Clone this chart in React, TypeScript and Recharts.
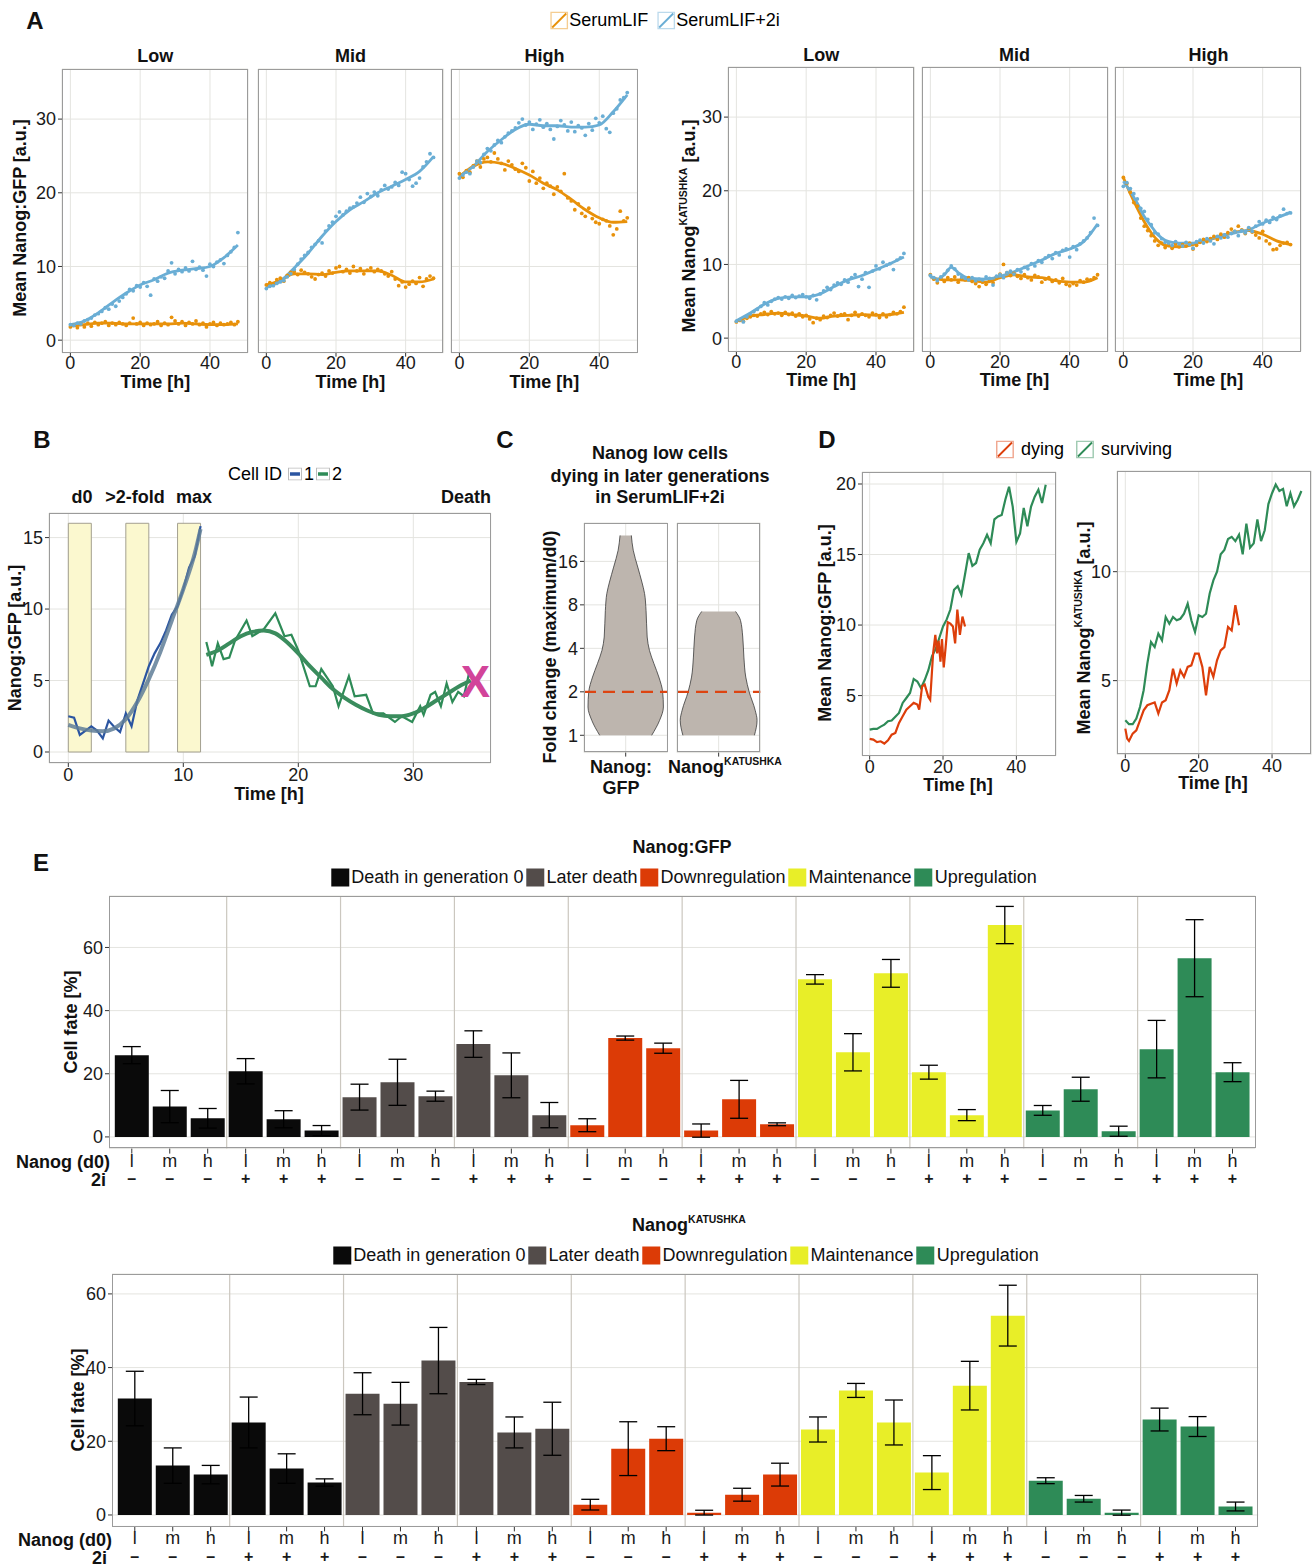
import React from 'react';
import {
  ComposedChart, LineChart, BarChart, Line, Scatter, Area, Bar, Cell, ErrorBar,
  XAxis, YAxis, CartesianGrid, ReferenceLine, ReferenceArea,
} from 'recharts';

const SANS = '"Liberation Sans", Arial, Helvetica, sans-serif';
const GRID = '#e4e4e0';
const BORDER = '#9b9b9b';
const TICK = { fontSize: 18, fontFamily: SANS, fill: '#1a1a1a' };
const ORANGE = '#e8910a';
const BLUE = '#6aaed5';
const RED = '#dd3e0a';
const GREEN = '#2e8b57';

// ---------- A: population means, hourly points + smooth fits ----------
const HOURS = Array.from({ length: 49 }, (_, i) => i);

const gfpLowSerum = [1.8, 2.0, 1.7, 2.2, 1.8, 2.3, 1.9, 2.4, 2.1, 2.3, 2.5, 2.0, 2.3, 2.1, 2.4, 2.2, 2.0, 2.3, 3.0, 2.2, 2.4, 2.0, 2.3, 2.1, 2.2, 2.5, 2.0, 2.3, 2.1, 3.1, 2.6, 2.2, 2.5, 2.0, 2.4, 2.2, 2.6, 2.1, 2.3, 1.8, 2.2, 2.4, 2.0, 2.3, 2.1, 2.2, 2.4, 2.1, 2.5];
const gfpLow2i = [2.1, 2.0, 2.3, 2.2, 2.6, 2.8, 3.0, 3.4, 3.6, 3.9, 4.4, 4.2, 4.9, 4.6, 5.3, 5.8, 6.3, 6.9, 6.7, 7.4, 7.2, 7.8, 7.3, 6.1, 8.3, 8.0, 8.6, 8.4, 9.4, 10.5, 9.0, 9.6, 9.3, 9.8, 9.4, 10.7, 9.6, 9.9, 9.5, 8.7, 10.3, 10.0, 10.6, 10.9, 10.4, 11.5, 12.0, 12.6, 14.6];
const gfpMidSerum = [7.5, 7.8, 7.6, 8.2, 8.4, 8.0, 8.8, 9.2, 9.3, 8.9, 9.5, 9.2, 9.0, 8.6, 8.3, 8.9, 9.1, 8.7, 9.4, 9.1, 9.8, 10.0, 9.3, 9.6, 9.1, 10.0, 9.4, 9.7, 9.0, 9.5, 9.8, 9.3, 9.6, 9.4, 9.0, 8.7, 9.3, 8.3, 7.4, 7.9, 7.2, 7.6, 8.0, 7.7, 8.5, 7.3, 8.3, 8.7, 8.4];
const gfpMid2i = [7.0, 7.3, 7.4, 7.7, 7.9, 8.1, 8.6, 9.0, 9.6, 10.3, 11.0, 11.5, 11.9, 12.6, 13.0, 13.5, 13.2, 14.8, 15.5, 16.0, 16.8, 17.4, 17.0, 17.5, 17.9, 18.1, 18.6, 19.4, 18.7, 19.9, 19.5, 20.1, 19.6, 20.4, 21.0, 20.5, 20.8, 21.4, 21.0, 22.8, 22.6, 21.8, 20.9, 21.3, 22.0, 23.5, 24.2, 25.3, 24.8];
const gfpHighSerum = [22.6, 22.1, 23.0, 22.8, 23.7, 24.3, 23.5, 24.6, 24.8, 24.2, 25.4, 24.6, 24.0, 23.1, 24.3, 23.8, 23.2, 22.9, 24.0, 23.4, 21.6, 22.9, 21.3, 22.0, 20.6, 21.3, 20.9, 19.8, 20.8, 20.2, 22.6, 19.3, 18.9, 17.7, 18.5, 17.2, 16.8, 17.9, 16.5, 16.0, 15.8, 16.4, 16.2, 15.5, 14.3, 15.1, 17.5, 16.2, 16.6];
const gfpHigh2i = [22.0, 22.4, 22.8, 22.6, 23.5, 24.3, 24.1, 25.2, 26.0, 25.7, 26.5, 27.1, 26.8, 27.6, 28.1, 28.4, 28.8, 29.5, 30.0, 29.2, 29.6, 28.6, 29.3, 29.9, 28.9, 29.4, 28.6, 27.3, 29.0, 29.8, 29.2, 28.4, 29.6, 28.3, 29.1, 28.8, 27.8, 29.4, 28.5, 30.1, 29.5, 30.4, 28.7, 28.2, 30.8, 31.4, 32.6, 32.9, 33.6];

const katLowSerum = [2.2, 2.4, 2.3, 2.7, 2.9, 3.1, 3.0, 3.3, 3.5, 3.2, 3.6, 3.3, 3.4, 3.1, 3.5, 3.2, 3.4, 3.0, 3.3, 2.9, 3.1, 2.6, 2.1, 2.7, 2.5, 3.0, 2.8, 3.1, 3.4, 3.0, 3.2, 3.3, 2.5, 3.1, 3.5, 3.0, 3.3, 3.1, 2.9, 3.4, 3.2, 2.8, 3.3, 2.9, 3.2, 3.5, 3.3, 3.6, 4.2];
const katLow2i = [2.3, 2.5, 2.2, 2.9, 3.3, 3.6, 3.9, 4.3, 4.8, 4.5, 5.0, 5.3, 5.5, 5.3, 5.6, 5.4, 5.8, 5.5, 5.7, 5.9, 5.6, 5.4, 5.8, 5.2, 6.0, 6.4, 6.9, 6.6, 7.2, 7.5, 7.3, 7.9, 7.6, 8.2, 8.6, 7.0, 8.0, 8.9, 6.9, 9.1, 9.8, 9.4, 10.3, 9.9, 10.1, 9.3, 10.6, 10.9, 11.5];
const katMidSerum = [8.6, 8.0, 7.5, 8.1, 7.7, 8.2, 7.9, 8.3, 7.6, 8.1, 7.9, 8.2, 7.7, 7.4, 7.0, 7.6, 7.3, 7.8, 7.5, 8.3, 8.7, 10.0, 8.9, 8.5, 8.8, 8.4, 8.1, 8.6, 8.2, 7.9, 8.5, 8.3, 7.6, 8.0, 8.2, 7.7, 7.9, 7.5, 8.1, 7.3, 7.1, 7.4, 7.2, 7.8, 7.6, 8.0, 7.9, 8.2, 8.6];
const katMid2i = [8.5, 8.2, 7.8, 8.3, 8.7, 9.2, 9.8, 9.4, 8.7, 8.3, 8.1, 7.9, 8.2, 7.8, 8.0, 7.9, 8.3, 8.1, 7.2, 8.4, 8.6, 8.2, 8.9, 9.1, 8.7, 9.3, 9.0, 9.6, 9.4, 10.1, 9.8, 10.5, 10.3, 10.9, 11.2, 10.8, 11.6, 11.3, 11.9, 12.1, 11.0, 12.4, 12.0, 12.8, 13.2, 13.6, 14.3, 16.3, 15.3];
const katHighSerum = [21.8, 21.0, 19.8, 18.4, 17.9, 16.3, 15.2, 14.6, 13.9, 13.2, 12.6, 12.9, 12.3, 12.6, 12.2, 12.8, 12.4, 12.7, 12.5, 12.9, 12.1, 12.6, 13.0, 13.4, 13.1, 13.5, 13.8, 13.4, 14.1, 13.7, 14.3, 14.8, 14.5, 15.2, 14.7, 14.2, 14.9, 14.4, 14.0, 13.6, 14.5, 13.2, 12.8, 12.0, 12.1, 12.6, 12.9, 13.0, 12.7];
const katHigh2i = [20.6, 21.1, 20.3, 19.6, 18.9, 17.6, 17.2, 16.1, 15.4, 14.3, 14.1, 13.5, 13.0, 12.9, 12.6, 13.1, 12.8, 12.5, 13.0, 12.7, 12.2, 13.1, 13.3, 12.9, 13.5, 13.2, 12.8, 13.8, 13.6, 14.0, 13.7, 14.2, 14.5, 13.9, 14.6, 14.3, 15.0, 14.5, 15.2, 15.8, 15.5, 16.0, 15.7, 16.4, 16.1, 16.6, 17.5, 16.9, 17.0];

const gfpLowSerumFit = [[0, 1.9], [4, 2.1], [8, 2.3], [12, 2.3], [16, 2.2], [20, 2.2], [24, 2.2], [28, 2.2], [32, 2.3], [36, 2.2], [40, 2.1], [44, 2.1], [48, 2.2]];
const gfpLow2iFit = [[0, 2.1], [4, 2.6], [8, 3.7], [12, 5.1], [16, 6.4], [20, 7.5], [24, 8.2], [28, 9.1], [32, 9.5], [36, 9.7], [40, 10.0], [44, 11.2], [48, 12.9]];
const gfpMidSerumFit = [[0, 7.5], [4, 8.1], [8, 9.0], [12, 9.0], [16, 8.9], [20, 9.2], [24, 9.4], [28, 9.4], [32, 9.4], [36, 8.8], [40, 7.9], [44, 7.9], [48, 8.3]];
const gfpMid2iFit = [[0, 7.2], [4, 8.0], [8, 9.8], [12, 11.8], [16, 14.1], [20, 16.1], [24, 17.7], [28, 18.8], [32, 20.0], [36, 20.9], [40, 21.8], [44, 22.9], [48, 24.9]];
const gfpHighSerumFit = [[0, 22.2], [4, 23.6], [8, 24.2], [12, 24.0], [16, 23.3], [20, 22.4], [24, 21.3], [28, 20.4], [32, 19.1], [36, 17.7], [40, 16.6], [44, 16.0], [48, 16.1]];
const gfpHigh2iFit = [[0, 22.2], [4, 23.6], [8, 25.6], [12, 27.2], [16, 28.6], [20, 29.3], [24, 29.1], [28, 29.1], [32, 28.9], [36, 28.9], [40, 29.2], [44, 31.0], [48, 33.3]];
const katLowSerumFit = [[0, 2.3], [4, 3.0], [8, 3.2], [12, 3.4], [16, 3.2], [20, 3.0], [24, 2.7], [28, 3.0], [32, 3.1], [36, 3.2], [40, 3.1], [44, 3.2], [48, 3.5]];
const katLow2iFit = [[0, 2.35], [4, 3.4], [8, 4.6], [12, 5.4], [16, 5.6], [20, 5.6], [24, 6.0], [28, 7.0], [32, 7.9], [36, 8.5], [40, 9.3], [44, 10.1], [48, 11.0]];
const katMidSerumFit = [[0, 8.3], [4, 7.9], [8, 7.9], [12, 7.8], [16, 7.6], [20, 8.2], [24, 8.6], [28, 8.3], [32, 8.2], [36, 7.8], [40, 7.6], [44, 7.6], [48, 8.2]];
const katMid2iFit = [[0, 8.4], [2, 8.0], [4, 8.6], [6, 9.6], [8, 8.9], [10, 8.3], [12, 8.1], [16, 8.0], [20, 8.4], [24, 9.0], [28, 9.8], [32, 10.6], [36, 11.5], [40, 12.1], [44, 13.1], [48, 15.5]];
const katHighSerumFit = [[0, 21.8], [2, 19.6], [4, 17.6], [6, 15.8], [8, 14.3], [10, 13.2], [12, 12.6], [16, 12.4], [20, 12.7], [24, 13.3], [28, 13.8], [32, 14.4], [36, 14.6], [40, 14.1], [44, 13.2], [48, 12.7]];
const katHigh2iFit = [[0, 21.3], [2, 19.9], [4, 18.3], [6, 16.5], [8, 15.2], [10, 14.0], [12, 13.3], [14, 13.0], [16, 12.9], [20, 12.9], [24, 13.3], [28, 13.9], [32, 14.3], [36, 14.7], [40, 15.6], [44, 16.3], [48, 17.1]];

// ---------- B: single-cell example ----------
const cell1Raw = [[0, 2.5], [0.5, 2.4], [1, 1.2], [1.5, 1.5], [2, 1.8], [2.5, 1.5], [3, 0.95], [3.5, 2.2], [4, 1.75], [4.5, 1.4], [5, 2.7], [5.5, 1.8], [6, 3.6], [6.5, 4.8], [7, 6.0], [7.5, 6.9], [8, 7.6], [8.5, 8.5], [9, 9.6], [9.5, 10.2], [10, 11.4], [10.5, 12.9], [11, 13.7], [11.5, 15.8]];
const cell1Fit = [[0, 1.9], [1, 1.65], [2, 1.5], [3, 1.45], [4, 1.65], [5, 2.3], [6, 3.5], [7, 5.1], [8, 7.0], [9, 9.2], [10, 11.4], [11, 13.9], [11.5, 15.6]];
const cell2Raw = [[12.0, 7.7], [12.25, 6.9], [12.5, 6.0], [13.0, 7.6], [13.5, 6.5], [14.0, 6.6], [14.5, 7.8], [15.5, 9.2], [16.0, 8.1], [17.0, 8.6], [18.0, 9.7], [18.8, 8.1], [19.4, 8.2], [20.0, 7.1], [21.0, 4.6], [21.5, 4.6], [22.0, 5.8], [23.0, 4.6], [23.5, 3.2], [24.4, 5.3], [24.9, 3.9], [25.9, 4.0], [26.5, 2.7], [27.4, 2.7], [28.4, 2.1], [29.0, 2.5], [29.9, 2.1], [30.6, 3.2], [30.9, 2.6], [31.5, 4.0], [31.9, 4.2], [32.4, 3.2], [32.9, 4.8], [33.4, 3.5], [33.9, 4.2], [34.4, 3.9], [34.9, 5.7]];
const cell2Fit = [[12, 6.8], [13, 7.1], [14, 7.6], [15, 8.1], [16, 8.4], [17, 8.5], [18, 8.3], [19, 7.7], [20, 6.9], [21, 6.0], [22, 5.2], [23, 4.4], [24, 3.8], [25, 3.3], [26, 2.9], [27, 2.6], [28, 2.5], [29, 2.5], [30, 2.7], [31, 3.1], [32, 3.6], [33, 4.1], [34, 4.6], [35, 5.0]];
const deathMark = [[35.4, 4.9]];
const windows = [[0, 2], [5, 7], [9.5, 11.5]];
const windowTop = 16;

// ---------- C: fold change violins ----------
const gfpViolinFc = [1, 1.27, 1.57, 2.0, 2.53, 3.13, 3.87, 4.79, 7.3, 9.6, 11.5, 14.6, 19.1, 24.2];
const gfpViolinDensity = [0.69, 0.9, 1.0, 0.98, 0.88, 0.75, 0.63, 0.57, 0.54, 0.5, 0.43, 0.32, 0.2, 0.15];
const katViolinFc = [1, 1.27, 1.49, 2.0, 2.53, 3.48, 4.79, 6.25, 7.2];
const katViolinDensity = [0.95, 1.02, 0.97, 0.81, 0.72, 0.67, 0.64, 0.58, 0.45];

// ---------- D: dying vs surviving ----------
const survGfp = [2.59, 2.64, 2.64, 2.8, 2.94, 3.18, 3.23, 3.5, 3.77, 4.48, 4.83, 5.19, 6.18, 6.0, 5.54, 6.1, 6.8, 7.8, 8.3, 9.1, 9.9, 10.4, 11.1, 12.5, 12.75, 12.15, 13.6, 15.1, 14.2, 14.4, 15.35, 15.8, 16.4, 15.8, 17.5, 17.7, 17.8, 18.9, 19.8, 18.4, 15.9, 16.5, 18.3, 17.0, 18.4, 19.1, 19.6, 18.65, 19.95];
const dyingGfp = [[0, 1.93], [1, 1.88], [2, 1.7], [3, 1.76], [4, 1.6], [5, 1.83], [6, 2.23], [7, 2.35], [8, 3.06], [9, 3.53], [10, 4.0], [11, 4.24], [12, 4.48], [13, 4.36], [13.5, 4.0], [14.3, 5.66], [15, 5.78], [16, 4.9], [16.5, 4.7], [17.3, 8.0], [17.9, 9.3], [18.4, 8.0], [18.8, 8.9], [19.3, 7.4], [19.7, 9.0], [20.2, 7.0], [20.7, 8.4], [21.3, 10.2], [22, 10.1], [22.7, 9.9], [23.3, 8.7], [23.9, 11.1], [24.6, 9.3], [25.3, 10.6], [26, 9.9]];
const survKat = [3.18, 3.0, 3.0, 3.26, 3.79, 4.56, 5.78, 6.77, 6.54, 7.16, 6.85, 7.92, 7.61, 7.92, 7.77, 7.84, 8.07, 8.53, 7.77, 7.23, 8.0, 7.92, 8.07, 9.0, 9.6, 10.0, 10.8, 11.0, 11.5, 11.6, 11.4, 11.7, 10.8, 12.2, 11.1, 11.3, 12.4, 11.4, 11.9, 13.1, 13.6, 14.0, 13.7, 13.8, 13.0, 13.6, 13.0, 13.3, 13.7];
const dyingKat = [[0, 2.8], [0.5, 2.34], [1, 2.23], [2, 2.57], [3, 2.72], [4, 3.18], [5, 3.64], [6, 3.87], [7, 3.94], [8, 4.0], [9, 3.49], [10, 4.0], [11, 4.1], [12, 4.56], [13, 5.55], [14, 4.87], [15, 5.47], [16, 5.17], [17, 5.63], [18, 5.7], [19, 6.24], [20, 6.24], [21, 5.63], [22, 4.33], [23, 5.63], [24, 5.17], [25, 5.93], [26, 6.39], [27, 6.54], [28, 7.46], [29, 7.3], [30, 8.46], [31, 7.54]];

// ---------- E: cell fates ----------
const FATES = ['Death in generation 0', 'Later death', 'Downregulation', 'Maintenance', 'Upregulation'];
const FATE_COLORS = ['#0a0a0a', '#534c4a', '#dc3b06', '#e8ee28', '#2e8b57'];
const LEVELS = ['l', 'm', 'h', 'l', 'm', 'h'];
const TWO_I = ['–', '–', '–', '+', '+', '+'];
const gfpFateMean = [25.9, 9.6, 5.9, 20.8, 5.6, 2.0, 12.6, 17.3, 12.9, 29.4, 19.5, 6.9, 3.7, 31.3, 28.1, 2.0, 11.9, 4.0, 49.9, 26.8, 51.8, 20.5, 6.9, 67.1, 8.4, 15.1, 1.8, 27.8, 56.6, 20.5];
const gfpFateErr = [2.7, 5.1, 3.1, 4.0, 2.7, 1.6, 4.1, 7.3, 1.6, 4.2, 7.1, 4.0, 2.05, 0.65, 1.6, 2.1, 6.0, 0.45, 1.5, 5.9, 4.4, 2.2, 1.75, 5.9, 1.55, 3.8, 1.6, 9.1, 12.2, 3.0];
const katFateMean = [31.6, 13.4, 10.95, 25.1, 12.6, 8.8, 32.9, 30.2, 41.9, 36.1, 22.4, 23.4, 2.8, 18.0, 20.7, 0.63, 5.5, 10.95, 23.2, 33.8, 25.1, 11.5, 35.1, 54.1, 9.3, 4.4, 0.63, 25.9, 24.0, 2.3];
const katFateErr = [7.4, 4.8, 2.5, 6.9, 4.0, 1.0, 5.7, 5.8, 9.0, 0.7, 4.2, 7.2, 1.45, 7.3, 3.25, 0.65, 1.75, 3.1, 3.4, 1.9, 6.1, 4.6, 6.6, 8.25, 0.8, 0.9, 0.7, 3.1, 2.7, 1.2];

// ---------- helpers ----------
type Box = { x: number; y: number; w: number; h: number };
const xy = (vals: number[]) => vals.map((v, i) => ({ t: HOURS[i], v }));
const pairs = (p: number[][]) => p.map(([t, v]) => ({ t, v }));

const PT = 8;
const PR = 8;
function slot(b: Box, left: number, bottom: number, showY = true) {
  return {
    style: { position: 'absolute' as const, left: b.x - left, top: b.y - PT },
    width: b.w + left + PR,
    height: b.h + PT + bottom,
    margin: { top: PT, right: PR, bottom: 0, left: showY ? 0 : left },
  };
}

const Frame = ({ b }: { b: Box }) => (
  <div style={{ position: 'absolute', left: b.x, top: b.y, width: b.w, height: b.h, border: `1px solid ${BORDER}`, boxSizing: 'border-box', pointerEvents: 'none' }} />
);

const Label = ({ x, y, children, size = 18, bold = true, rotate = 0, anchor = 'middle' }: any) => (
  <div style={{
    position: 'absolute', left: x, top: y, whiteSpace: 'nowrap', fontFamily: SANS, fontSize: size,
    fontWeight: bold ? 700 : 400, color: '#111', lineHeight: 1,
    transform: `translate(${anchor === 'middle' ? '-50%' : anchor === 'end' ? '-100%' : '0'}, -50%) rotate(${rotate}deg)`,
  }}>{children}</div>
);

const Kat = () => (
  <span>Nanog<sup style={{ fontSize: '0.58em', verticalAlign: '0.75em', lineHeight: 0 }}>KATUSHKA</sup></span>
);

const KeyIcon = ({ color }: { color: string }) => (
  <svg width={18} height={18} style={{ display: 'block' }}>
    <rect x={0.75} y={0.75} width={16.5} height={16.5} fill="#fff" stroke={color} strokeOpacity={0.45} strokeWidth={1.5} />
    <line x1={2} y1={16} x2={16} y2={2} stroke={color} strokeWidth={1.8} />
  </svg>
);

const dot = (color: string) => (p: any) => <circle cx={p.cx} cy={p.cy} r={1.9} fill={color} />;

// ---------- panel A facet ----------
function Facet({ b, showY, serum, twoI, serumFit, twoIFit, xDomain, yDomain }: any) {
  const s = slot(b, 40, 26, showY);
  return (
    <div style={s.style}>
      <ComposedChart width={s.width} height={s.height} margin={s.margin}>
        <CartesianGrid stroke={GRID} />
        <XAxis type="number" dataKey="t" domain={xDomain} allowDataOverflow ticks={[0, 20, 40]} height={26}
          tick={TICK} tickSize={4} tickMargin={0} axisLine={false} stroke="#333" />
        <YAxis type="number" dataKey="v" domain={yDomain} allowDataOverflow ticks={[0, 10, 20, 30]} width={40}
          hide={!showY} tick={TICK} tickSize={4} tickMargin={2} axisLine={false} stroke="#333" />
        <Scatter data={xy(serum)} shape={dot(ORANGE)} isAnimationActive={false} />
        <Scatter data={xy(twoI)} shape={dot(BLUE)} isAnimationActive={false} />
        <Line data={pairs(serumFit)} dataKey="v" type="monotone" stroke={ORANGE} strokeWidth={2.8} dot={false} isAnimationActive={false} />
        <Line data={pairs(twoIFit)} dataKey="v" type="monotone" stroke={BLUE} strokeWidth={2.8} dot={false} isAnimationActive={false} />
      </ComposedChart>
    </div>
  );
}

const A_LEFT = [
  { title: 'Low', b: { x: 62.3, y: 69.3, w: 186, h: 283.7 }, serum: gfpLowSerum, twoI: gfpLow2i, serumFit: gfpLowSerumFit, twoIFit: gfpLow2iFit },
  { title: 'Mid', b: { x: 257.6, y: 69.3, w: 185.6, h: 283.7 }, serum: gfpMidSerum, twoI: gfpMid2i, serumFit: gfpMidSerumFit, twoIFit: gfpMid2iFit },
  { title: 'High', b: { x: 451.2, y: 69.3, w: 186.4, h: 283.7 }, serum: gfpHighSerum, twoI: gfpHigh2i, serumFit: gfpHighSerumFit, twoIFit: gfpHigh2iFit },
];
const A_RIGHT = [
  { title: 'Low', b: { x: 728, y: 67.3, w: 186.4, h: 284.4 }, serum: katLowSerum, twoI: katLow2i, serumFit: katLowSerumFit, twoIFit: katLow2iFit },
  { title: 'Mid', b: { x: 921.5, y: 67.3, w: 186, h: 284.4 }, serum: katMidSerum, twoI: katMid2i, serumFit: katMidSerumFit, twoIFit: katMid2iFit },
  { title: 'High', b: { x: 1115.4, y: 67.3, w: 186, h: 284.4 }, serum: katHighSerum, twoI: katHigh2i, serumFit: katHighSerumFit, twoIFit: katHigh2iFit },
];

// ---------- panel B ----------
const B_BOX = { x: 49, y: 512.7, w: 441.7, h: 250 };
function CellTrace() {
  const s = slot(B_BOX, 40, 26);
  return (
    <div style={s.style}>
      <ComposedChart width={s.width} height={s.height} margin={s.margin}>
        <CartesianGrid stroke={GRID} />
        <XAxis type="number" dataKey="t" domain={[-1.68, 36.73]} allowDataOverflow ticks={[0, 10, 20, 30]} height={26}
          tick={TICK} tickSize={4} tickMargin={1} axisLine={false} stroke="#333" />
        <YAxis type="number" dataKey="v" domain={[-0.77, 16.72]} allowDataOverflow ticks={[0, 5, 10, 15]} width={40}
          tick={TICK} tickSize={4} tickMargin={2} axisLine={false} stroke="#333" />
        {windows.map(([a, c]) => (
          <ReferenceArea key={a} x1={a} x2={c} y1={0} y2={windowTop} fill="#fbf8cf" fillOpacity={1} stroke="#a3a090" strokeWidth={1} />
        ))}
        <Line data={pairs(cell1Raw)} dataKey="v" type="linear" stroke="#2b55a1" strokeWidth={2.2} dot={false} isAnimationActive={false} />
        <Line data={pairs(cell1Fit)} dataKey="v" type="monotone" stroke="#5f7e98" strokeOpacity={0.85} strokeWidth={4} dot={false} isAnimationActive={false} />
        <Line data={pairs(cell2Raw)} dataKey="v" type="linear" stroke={GREEN} strokeWidth={2.2} dot={false} isAnimationActive={false} />
        <Line data={pairs(cell2Fit)} dataKey="v" type="monotone" stroke="#3a8c5d" strokeWidth={4} dot={false} isAnimationActive={false} />
        <Scatter data={pairs(deathMark)} isAnimationActive={false}
          shape={(p: any) => (
            <text x={p.cx} y={p.cy} textAnchor="middle" dominantBaseline="central" fontFamily={SANS} fontWeight={700} fontSize={44} fill="#d2449a">X</text>
          )} />
      </ComposedChart>
    </div>
  );
}

// ---------- panel C ----------
function Violin({ b, fc, dens, showY }: any) {
  const data = fc.map((f: number, i: number) => ({ fc: f, range: [-dens[i], dens[i]] }));
  const s = slot(b, 40, 8, showY);
  return (
    <div style={s.style}>
      <ComposedChart layout="vertical" data={data} width={s.width} height={s.height} margin={s.margin}>
        <CartesianGrid stroke={GRID} />
        <XAxis type="number" domain={[-1.106, 1.106]} allowDataOverflow ticks={[0]} height={8}
          tick={() => <g />} tickSize={4} axisLine={false} stroke="#333" />
        <YAxis type="number" dataKey="fc" scale="log" reversed domain={[0.759, 29.5]} allowDataOverflow ticks={[1, 2, 4, 8, 16]}
          width={40} hide={!showY} tick={TICK} tickSize={4} tickMargin={2} axisLine={false} stroke="#333" />
        <Area dataKey="range" type="monotone" fill="#bdb5ae" fillOpacity={1} stroke="#3a3a3a" strokeWidth={0.8} isAnimationActive={false} />
        <ReferenceLine y={2} stroke="#dd4411" strokeWidth={2.2} strokeDasharray="12 7" />
      </ComposedChart>
    </div>
  );
}
const C_LEFT = { x: 584.3, y: 522.7, w: 83.4, h: 229.6 };
const C_RIGHT = { x: 676.7, y: 522.7, w: 83.3, h: 229.6 };

// ---------- panel D ----------
function Traces({ b, dying, surviving, xDomain, yDomain, yTicks }: any) {
  const s = slot(b, 40, 26);
  return (
    <div style={s.style}>
      <LineChart width={s.width} height={s.height} margin={s.margin}>
        <CartesianGrid stroke={GRID} />
        <XAxis type="number" dataKey="t" domain={xDomain} allowDataOverflow ticks={[0, 20, 40]} height={26}
          tick={TICK} tickSize={4} tickMargin={1} axisLine={false} stroke="#333" />
        <YAxis type="number" domain={yDomain} allowDataOverflow ticks={yTicks} width={40}
          tick={TICK} tickSize={4} tickMargin={2} axisLine={false} stroke="#333" />
        <Line data={surviving} dataKey="v" type="linear" stroke={GREEN} strokeWidth={2.2} dot={false} isAnimationActive={false} />
        <Line data={dying} dataKey="v" type="linear" stroke={RED} strokeWidth={2.2} dot={false} isAnimationActive={false} />
      </LineChart>
    </div>
  );
}
const D_LEFT = { x: 861.7, y: 472.3, w: 194, h: 283.7 };
const D_RIGHT = { x: 1116.7, y: 470.7, w: 194.3, h: 283.3 };

// ---------- panel E ----------
const FateTick = ({ x, y, payload }: any) => {
  const i = (payload.value - 1) % 6;
  return (
    <g>
      <text x={x} y={y + 5} textAnchor="middle" dominantBaseline="central" fontFamily={SANS} fontSize={18} fill="#1a1a1a">{LEVELS[i]}</text>
      <text x={x} y={y + 23} textAnchor="middle" dominantBaseline="central" fontFamily={SANS} fontSize={16} fontWeight={700} fill="#1a1a1a">{TWO_I[i]}</text>
    </g>
  );
};
const BAR_X = gfpFateMean.map((_, i) => i + 1);
const GROUP_EDGES = Array.from({ length: 9 }, (_, i) => 3 * (i + 1) + 0.5);

function FateBars({ b, mean, err, yDomain }: any) {
  const data = mean.map((v: number, i: number) => ({ x: BAR_X[i], v, e: err[i], fate: Math.floor(i / 6) }));
  const s = slot(b, 44, 38);
  return (
    <div style={s.style}>
      <BarChart data={data} width={s.width} height={s.height} margin={s.margin} barSize={34}>
        <CartesianGrid stroke={GRID} vertical={false} />
        {GROUP_EDGES.map((g) => <ReferenceLine key={g} x={g} stroke="#cbc7bf" strokeWidth={1.2} />)}
        <XAxis type="number" dataKey="x" domain={[0.4, 30.6]} allowDataOverflow ticks={BAR_X} interval={0} height={38}
          tick={<FateTick />} tickSize={5} tickMargin={2} axisLine={false} stroke="#333" />
        <YAxis type="number" domain={yDomain} allowDataOverflow ticks={[0, 20, 40, 60]} width={44}
          tick={TICK} tickSize={4} tickMargin={2} axisLine={false} stroke="#333" />
        <Bar dataKey="v" isAnimationActive={false}>
          {data.map((d: any) => <Cell key={d.x} fill={FATE_COLORS[d.fate]} />)}
          <ErrorBar dataKey="e" width={9} stroke="#000" strokeWidth={1.3} />
        </Bar>
      </BarChart>
    </div>
  );
}
const E_TOP = { x: 109.4, y: 895.7, w: 1146.3, h: 252.6 };
const E_BOTTOM = { x: 111.5, y: 1274.3, w: 1146.3, h: 252.4 };

const FateLegend = ({ cx, y }: { cx: number; y: number }) => (
  <div style={{ position: 'absolute', left: cx, top: y, transform: 'translate(-50%,-50%)', display: 'flex', alignItems: 'center', whiteSpace: 'nowrap', fontFamily: SANS, fontSize: 18, color: '#111' }}>
    {FATES.map((f, i) => (
      <React.Fragment key={f}>
        <span style={{ width: 18, height: 18, background: FATE_COLORS[i], display: 'inline-block', marginLeft: i ? 3 : 0, marginRight: 2 }} />
        <span>{f}</span>
      </React.Fragment>
    ))}
  </div>
);

export default function App() {
  return (
    <div style={{ position: 'relative', width: 1314, height: 1567, background: '#fff', overflow: 'hidden', fontFamily: SANS }}>
      <style>{'body{margin:0}'}</style>

      {/* ---- A ---- */}
      <Label x={35} y={21} size={24}>A</Label>
      <div style={{ position: 'absolute', left: 665, top: 20, transform: 'translate(-50%,-50%)', display: 'flex', alignItems: 'center', fontSize: 18, whiteSpace: 'nowrap' }}>
        <KeyIcon color={ORANGE} /><span style={{ marginLeft: 1, marginRight: 9 }}>SerumLIF</span>
        <KeyIcon color={BLUE} /><span style={{ marginLeft: 1 }}>SerumLIF+2i</span>
      </div>
      {A_LEFT.map((f, i) => (
        <React.Fragment key={'l' + f.title}>
          <Facet b={f.b} showY={i === 0} serum={f.serum} twoI={f.twoI} serumFit={f.serumFit} twoIFit={f.twoIFit} xDomain={[-2.4, 50.9]} yDomain={[-1.7, 36.8]} />
          <Frame b={f.b} />
          <Label x={f.b.x + f.b.w / 2} y={56}>{f.title}</Label>
          <Label x={f.b.x + f.b.w / 2} y={382}>Time [h]</Label>
        </React.Fragment>
      ))}
      {A_RIGHT.map((f, i) => (
        <React.Fragment key={'r' + f.title}>
          <Facet b={f.b} showY={i === 0} serum={f.serum} twoI={f.twoI} serumFit={f.serumFit} twoIFit={f.twoIFit} xDomain={[-2.4, 51.0]} yDomain={[-1.8, 36.8]} />
          <Frame b={f.b} />
          <Label x={f.b.x + f.b.w / 2} y={55}>{f.title}</Label>
          <Label x={f.b.x + f.b.w / 2} y={380}>Time [h]</Label>
        </React.Fragment>
      ))}
      <Label x={20} y={218} rotate={-90}>Mean Nanog:GFP [a.u.]</Label>
      <Label x={689} y={226} rotate={-90}>Mean <Kat /> [a.u.]</Label>

      {/* ---- B ---- */}
      <Label x={42} y={440} size={24}>B</Label>
      <div style={{ position: 'absolute', left: 285, top: 474, transform: 'translate(-50%,-50%)', display: 'flex', alignItems: 'center', fontSize: 18, whiteSpace: 'nowrap' }}>
        <span style={{ marginRight: 6 }}>Cell ID</span>
        <svg width={14} height={13}><rect x={0.5} y={0.5} width={13} height={12} fill="#fff" stroke="#bbb" /><line x1={2} y1={6.5} x2={12} y2={6.5} stroke="#2b55a1" strokeWidth={3.5} /></svg>
        <span style={{ margin: '0 2px' }}>1</span>
        <svg width={14} height={13}><rect x={0.5} y={0.5} width={13} height={12} fill="#fff" stroke="#bbb" /><line x1={2} y1={6.5} x2={12} y2={6.5} stroke={GREEN} strokeWidth={3.5} /></svg>
        <span style={{ marginLeft: 2 }}>2</span>
      </div>
      <Label x={82} y={497}>d0</Label>
      <Label x={135} y={497}>&gt;2-fold</Label>
      <Label x={194} y={497}>max</Label>
      <Label x={491} y={497} anchor="end">Death</Label>
      <CellTrace />
      <Frame b={B_BOX} />
      <Label x={15} y={638} rotate={-90}>Nanog:GFP [a.u.]</Label>
      <Label x={269} y={794}>Time [h]</Label>

      {/* ---- C ---- */}
      <Label x={505} y={440} size={24}>C</Label>
      <Label x={660} y={453}>Nanog low cells</Label>
      <Label x={660} y={476}>dying in later generations</Label>
      <Label x={660} y={497}>in SerumLIF+2i</Label>
      <Violin b={C_LEFT} fc={gfpViolinFc} dens={gfpViolinDensity} showY />
      <Violin b={C_RIGHT} fc={katViolinFc} dens={katViolinDensity} showY={false} />
      <Frame b={C_LEFT} />
      <Frame b={C_RIGHT} />
      <Label x={550} y={647} rotate={-90}>Fold change (maximum/d0)</Label>
      <Label x={621} y={767}>Nanog:</Label>
      <Label x={621} y={788}>GFP</Label>
      <Label x={725} y={767}><Kat /></Label>

      {/* ---- D ---- */}
      <Label x={827} y={440} size={24}>D</Label>
      <div style={{ position: 'absolute', left: 1084, top: 449, transform: 'translate(-50%,-50%)', display: 'flex', alignItems: 'center', fontSize: 18, whiteSpace: 'nowrap' }}>
        <KeyIcon color={RED} /><span style={{ marginLeft: 7, marginRight: 12 }}>dying</span>
        <KeyIcon color={GREEN} /><span style={{ marginLeft: 7 }}>surviving</span>
      </div>
      <Traces b={D_LEFT} surviving={xy(survGfp)} dying={pairs(dyingGfp)} xDomain={[-2.09, 50.8]} yDomain={[0.74, 20.85]} yTicks={[5, 10, 15, 20]} />
      <Traces b={D_RIGHT} surviving={xy(survKat)} dying={pairs(dyingKat)} xDomain={[-2.27, 50.7]} yDomain={[1.62, 14.62]} yTicks={[5, 10]} />
      <Frame b={D_LEFT} />
      <Frame b={D_RIGHT} />
      <Label x={825} y={623} rotate={-90}>Mean Nanog:GFP [a.u.]</Label>
      <Label x={1084} y={628} rotate={-90}>Mean <Kat /> [a.u.]</Label>
      <Label x={958} y={785}>Time [h]</Label>
      <Label x={1213} y={783}>Time [h]</Label>

      {/* ---- E ---- */}
      <Label x={41} y={863} size={24}>E</Label>
      <Label x={682} y={847}>Nanog:GFP</Label>
      <FateLegend cx={684} y={877} />
      <FateBars b={E_TOP} mean={gfpFateMean} err={gfpFateErr} yDomain={[-3.7, 76.3]} />
      <Frame b={E_TOP} />
      <Label x={71} y={1022} rotate={-90}>Cell fate [%]</Label>
      <Label x={110} y={1162} anchor="end">Nanog (d0)</Label>
      <Label x={106} y={1180} anchor="end">2i</Label>

      <Label x={689} y={1225}><Kat /></Label>
      <FateLegend cx={686} y={1255} />
      <FateBars b={E_BOTTOM} mean={katFateMean} err={katFateErr} yDomain={[-3.1, 65.4]} />
      <Frame b={E_BOTTOM} />
      <Label x={78} y={1400} rotate={-90}>Cell fate [%]</Label>
      <Label x={112} y={1540} anchor="end">Nanog (d0)</Label>
      <Label x={107} y={1558} anchor="end">2i</Label>
    </div>
  );
}
